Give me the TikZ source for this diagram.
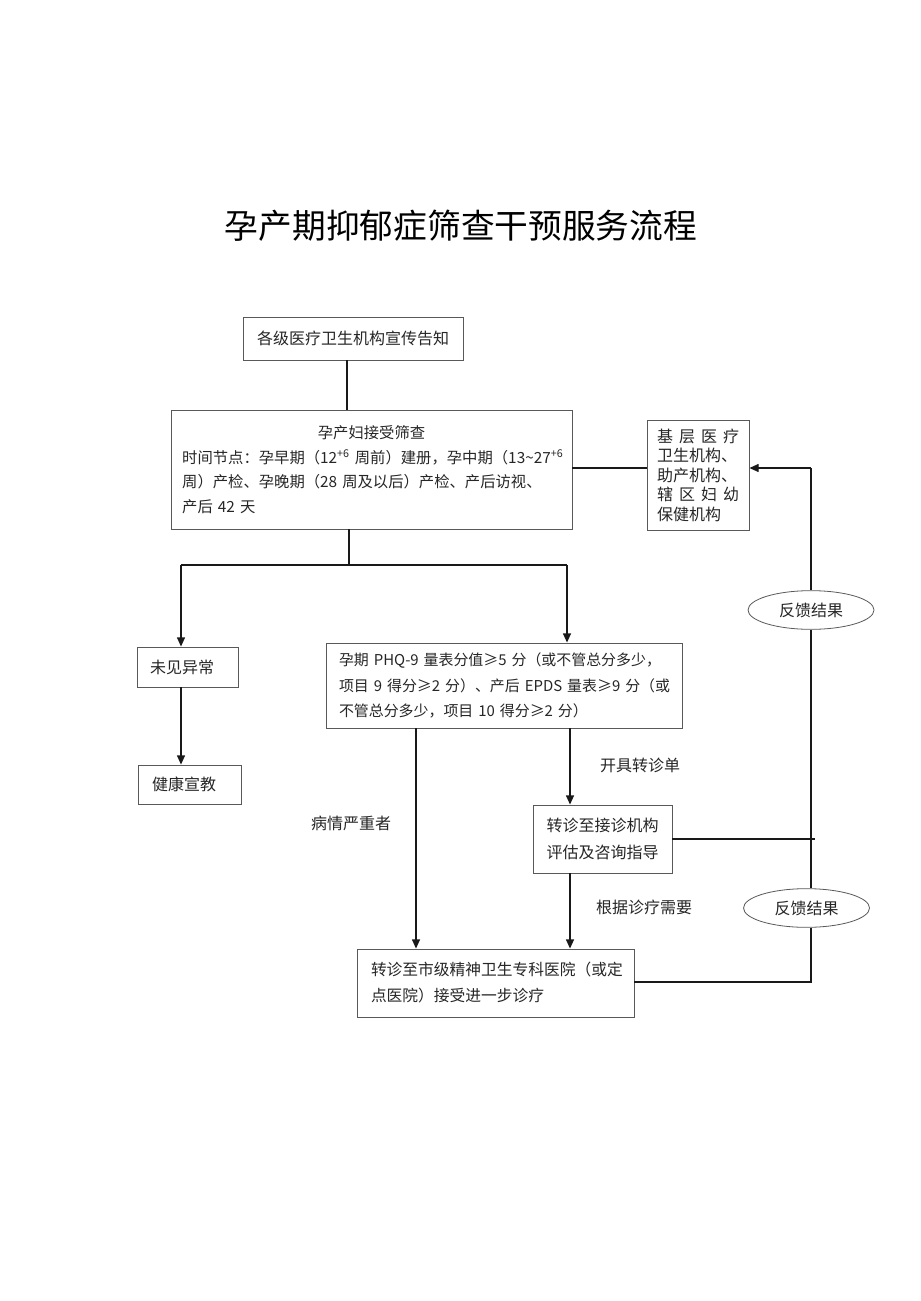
\documentclass[tikz,border=0pt]{standalone}
\usepackage{fontspec}
\setmainfont{Noto Sans CJK SC}
\usetikzlibrary{arrows.meta}
\usetikzlibrary{shapes.geometric}

\begin{document}
\begin{tikzpicture}[x=0.75pt, y=-0.75pt,
    box/.style={draw=black!65, line width=0.6pt, inner xsep=9pt, inner ysep=0pt,
      text=black!85, font=\fontsize{12pt}{18pt}\selectfont},
    lbl/.style={text=black!85, font=\fontsize{12pt}{14pt}\selectfont},
    fback/.style={ellipse, draw=black!65, line width=0.6pt, fill=white,
      minimum width=94.5pt, minimum height=29pt, inner sep=0pt,
      text=black!85, font=\fontsize{12pt}{14pt}\selectfont},
    link/.style={line width=1.1pt, black!90},
    arr/.style={link, -{Triangle[length=7pt, width=6pt]}}]
  \fill[white] (0,0) rectangle (920,1301);
  \useasboundingbox (0,0) rectangle (920,1301);

  \node[font=\fontsize{25.3pt}{28pt}\selectfont] (title) at (461,226) {孕产期抑郁症筛查干预服务流程};

  % boxes
  \node[box, align=center, minimum width=165pt, minimum height=32.25pt] (notice) at (353,338.5)
    {各级医疗卫生机构宣传告知};
  \node[box, align=left, minimum width=300.75pt, minimum height=89.25pt, inner xsep=8.4pt,
    text width=283.95pt, font=\fontsize{11.5pt}{18.4pt}\selectfont] (screen) at (371.5,469.5)
    {\makebox[\linewidth]{孕产妇接受筛查}\\
     时间节点：孕早期（12\textsuperscript{+6}~周前）建册，孕中期（13\textasciitilde27\textsuperscript{+6}\\
     周）产检、孕晚期（28~周及以后）产检、产后访视、\\
     产后~42~天};
  \node[box, align=left, minimum width=76.5pt, minimum height=82.5pt, inner xsep=7.5pt,
    text width=61.5pt, font=\fontsize{12pt}{14.6pt}\selectfont] (base) at (698,475)
    {\makebox[\linewidth][s]{基\hfill 层\hfill 医\hfill 疗}\\
     卫生机构、\\
     助产机构、\\
     \makebox[\linewidth][s]{辖\hfill 区\hfill 妇\hfill 幼}\\
     保健机构};
  \node[box, align=left, minimum width=75.75pt, minimum height=30pt, inner xsep=9.75pt,
    text width=56.25pt] (normal) at (187.5,667) {未见异常};
  \node[box, align=left, minimum width=77.25pt, minimum height=29.25pt, inner xsep=10.5pt,
    text width=56.25pt] (edu) at (189.5,784.5) {健康宣教};
  \node[box, align=left, minimum width=267pt, minimum height=63.75pt, inner xsep=9.75pt,
    text width=247.5pt, font=\fontsize{11.2pt}{19pt}\selectfont] (phq) at (504,685.5)
    {孕期~\mbox{PHQ-9}~量表分值≥5~分（或不管总分多少，\\
     项目~9~得分≥2~分）、产后~EPDS~量表≥9~分（或\\
     不管总分多少，项目~10~得分≥2~分）};
  \node[box, align=center, minimum width=104.25pt, minimum height=51pt,
    font=\fontsize{12pt}{20pt}\selectfont] (refer) at (602.5,839)
    {转诊至接诊机构\\评估及咨询指导};
  \node[box, align=left, minimum width=207.75pt, minimum height=51pt, inner xsep=10.5pt,
    text width=186.75pt, font=\fontsize{11.8pt}{19.5pt}\selectfont] (hosp) at (495.5,983)
    {转诊至市级精神卫生专科医院（或定\\点医院）接受进一步诊疗};

  \node[fback] (fb1) at (811,610) {反馈结果};
  \node[fback] (fb2) at (806.5,908) {反馈结果};

  % labels
  \node[lbl] (severe) at (351,823) {病情严重者};
  \node[lbl] (slip) at (640,765) {开具转诊单};
  \node[lbl] (need) at (644,907) {根据诊疗需要};

  % turning points
  \coordinate (split) at (349,565);
  \coordinate (brL) at (181,565);
  \coordinate (brR) at (567,565);
  \coordinate (xsev) at (416,0);
  \coordinate (xref) at (570,0);
  \coordinate (fbtop) at (811,468);
  \coordinate (fbbot) at (811,982);

  % connectors
  \draw[link] ([xshift=-4.5pt]notice.south) -- ([xshift=-4.5pt]notice.south |- screen.north);
  \draw[link] (screen.south -| split) -- (split);
  \draw[link] (brL) -- (brR);
  \draw[arr] (brL) -- (brL |- normal.north);
  \draw[arr] (brR) -- (brR |- phq.north);
  \draw[arr] (normal.south -| brL) -- (edu.north -| brL);
  \draw[arr] (phq.south -| xsev) -- (hosp.north -| xsev);
  \draw[arr] (phq.south -| xref) -- (refer.north -| xref);
  \draw[arr] (refer.south -| xref) -- (hosp.north -| xref);
  \draw[link] (screen.east |- fbtop) -- (base.west |- fbtop);
  \draw[arr] (fbtop) -- (base.east |- fbtop);
  \draw[link] (fbtop) -- (fb1.north -| fbtop);
  \draw[link] (fb1.south -| fbtop) -- (fb2.north -| fbtop);
  \draw[link] (fb2.south -| fbtop) -- (fbbot) -- (hosp.east |- fbbot);
  \draw[link] (refer.east) -- ([xshift=3pt]refer.east -| fbtop);
\end{tikzpicture}
\end{document}
